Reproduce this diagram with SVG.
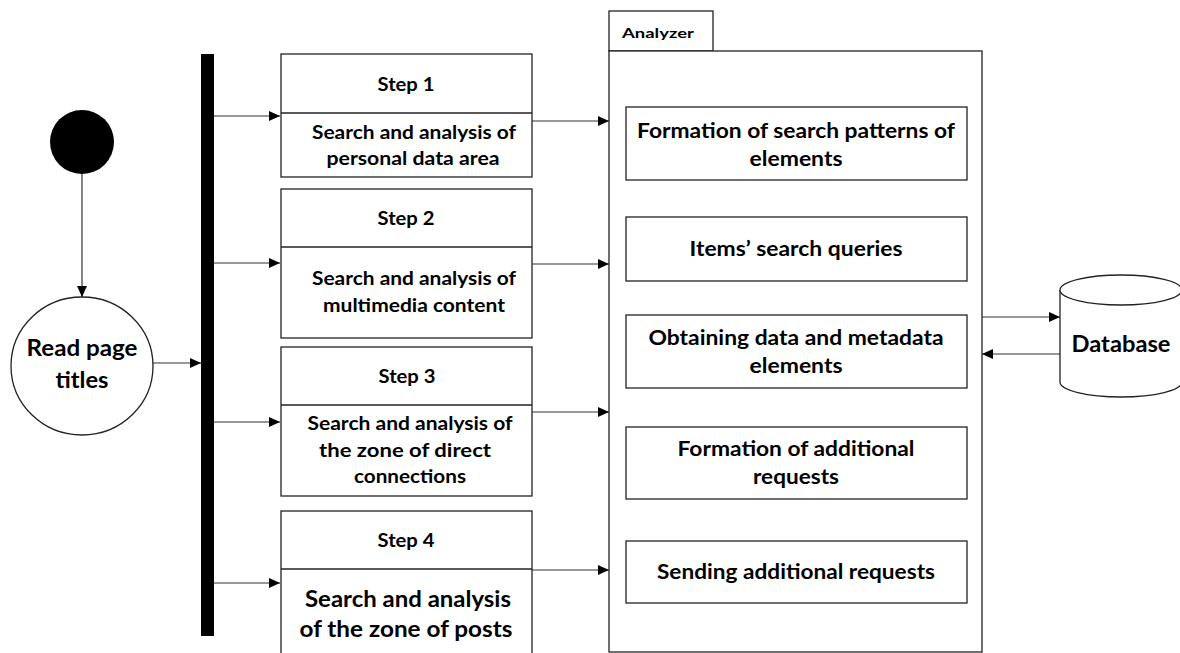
<svg xmlns="http://www.w3.org/2000/svg" width="1180" height="653" viewBox="0 0 1180 653">
<style>
.box{fill:#fff;stroke:#222;stroke-width:1.3}
.ln{fill:none;stroke:#333;stroke-width:1.2}
.t{font-family:Lato,"Open Sans",sans-serif;font-weight:bold;fill:#000;text-anchor:middle}
.s16{font-size:18px}.s18{font-size:18.5px}.s20{font-size:20px}.s22{font-size:22px}.s14{font-size:14px}
</style>
<defs>
<marker id="ah" markerUnits="userSpaceOnUse" markerWidth="12" markerHeight="10" refX="11" refY="5" orient="auto">
<path d="M0,0 L11,5 L0,10 Z" fill="#000"/>
</marker>
</defs>
<rect width="1180" height="653" fill="#fff"/>
<g id="connectors">
<line class="ln" x1="82" y1="174" x2="82" y2="297" marker-end="url(#ah)"/>
<line class="ln" x1="153" y1="363" x2="201" y2="363" marker-end="url(#ah)"/>
<line class="ln" x1="214" y1="116" x2="280" y2="116" marker-end="url(#ah)"/>
<line class="ln" x1="214" y1="263" x2="280" y2="263" marker-end="url(#ah)"/>
<line class="ln" x1="214" y1="422" x2="280" y2="422" marker-end="url(#ah)"/>
<line class="ln" x1="214" y1="583" x2="280" y2="583" marker-end="url(#ah)"/>
<line class="ln" x1="532" y1="121" x2="609" y2="121" marker-end="url(#ah)"/>
<line class="ln" x1="532" y1="264" x2="609" y2="264" marker-end="url(#ah)"/>
<line class="ln" x1="532" y1="412" x2="609" y2="412" marker-end="url(#ah)"/>
<line class="ln" x1="532" y1="570" x2="609" y2="570" marker-end="url(#ah)"/>
<line class="ln" x1="982" y1="317" x2="1060" y2="317" marker-end="url(#ah)"/>
<line class="ln" x1="1060" y1="354" x2="982" y2="354" marker-end="url(#ah)"/>
</g>
<g id="start"><circle cx="82" cy="142" r="32" fill="#000"/></g>
<g id="read">
<ellipse class="box" cx="82" cy="366" rx="71" ry="69"/>
<text class="t s22" x="82" y="356" textLength="111" lengthAdjust="spacingAndGlyphs">Read page</text>
<text class="t s22" x="82" y="388" textLength="53" lengthAdjust="spacingAndGlyphs">titles</text>
</g>
<g id="bar"><rect x="201" y="54" width="13" height="582" fill="#000"/></g>
<g id="step1">
<rect class="box" x="281" y="54" width="251" height="123"/>
<line class="box" x1="281" y1="113" x2="532" y2="113"/>
<text class="t s16" x="406" y="91" textLength="57" lengthAdjust="spacingAndGlyphs">Step 1</text>
<text class="t s18" x="414" y="139" textLength="204" lengthAdjust="spacingAndGlyphs">Search and analysis of</text>
<text class="t s18" x="413" y="165" textLength="173" lengthAdjust="spacingAndGlyphs">personal data area</text>
</g>
<g id="step2">
<rect class="box" x="281" y="189" width="251" height="149"/>
<line class="box" x1="281" y1="247" x2="532" y2="247"/>
<text class="t s16" x="406" y="225" textLength="57" lengthAdjust="spacingAndGlyphs">Step 2</text>
<text class="t s18" x="414" y="285" textLength="204" lengthAdjust="spacingAndGlyphs">Search and analysis of</text>
<text class="t s18" x="414" y="312" textLength="182" lengthAdjust="spacingAndGlyphs">multimedia content</text>
</g>
<g id="step3">
<rect class="box" x="281" y="347" width="251" height="149"/>
<line class="box" x1="281" y1="405" x2="532" y2="405"/>
<text class="t s16" x="407" y="383" textLength="57" lengthAdjust="spacingAndGlyphs">Step 3</text>
<text class="t s18" x="410" y="430" textLength="205" lengthAdjust="spacingAndGlyphs">Search and analysis of</text>
<text class="t s18" x="405" y="457" textLength="172" lengthAdjust="spacingAndGlyphs">the zone of direct</text>
<text class="t s18" x="410" y="483" textLength="112" lengthAdjust="spacingAndGlyphs">connections</text>
</g>
<g id="step4">
<rect class="box" x="281" y="511" width="251" height="160"/>
<line class="box" x1="281" y1="569" x2="532" y2="569"/>
<text class="t s16" x="406" y="547" textLength="57" lengthAdjust="spacingAndGlyphs">Step 4</text>
<text class="t s22" x="408" y="607" textLength="206" lengthAdjust="spacingAndGlyphs">Search and analysis</text>
<text class="t s22" x="406" y="637" textLength="213" lengthAdjust="spacingAndGlyphs">of the zone of posts</text>
</g>
<g id="analyzer">
<rect class="box" x="609" y="11" width="104" height="40"/>
<rect class="box" x="609" y="51" width="373" height="601"/>
<text class="t s14" x="658" y="38" textLength="72" lengthAdjust="spacingAndGlyphs">Analyzer</text>
</g>
<g id="a1">
<rect class="box" x="626" y="107" width="341" height="73"/>
<text class="t s20" x="796" y="138" textLength="318" lengthAdjust="spacingAndGlyphs">Formation of search patterns of</text>
<text class="t s20" x="796" y="166" textLength="93" lengthAdjust="spacingAndGlyphs">elements</text>
</g>
<g id="a2">
<rect class="box" x="626" y="217" width="341" height="64"/>
<text class="t s20" x="796" y="256" textLength="213" lengthAdjust="spacingAndGlyphs">Items’ search queries</text>
</g>
<g id="a3">
<rect class="box" x="626" y="315" width="341" height="73"/>
<text class="t s20" x="796" y="345" textLength="295" lengthAdjust="spacingAndGlyphs">Obtaining data and metadata</text>
<text class="t s20" x="796" y="373" textLength="93" lengthAdjust="spacingAndGlyphs">elements</text>
</g>
<g id="a4">
<rect class="box" x="626" y="427" width="341" height="72"/>
<text class="t s20" x="796" y="456" textLength="237" lengthAdjust="spacingAndGlyphs">Formation of additional</text>
<text class="t s20" x="796" y="484" textLength="86" lengthAdjust="spacingAndGlyphs">requests</text>
</g>
<g id="a5">
<rect class="box" x="626" y="541" width="341" height="62"/>
<text class="t s20" x="796" y="579" textLength="278" lengthAdjust="spacingAndGlyphs">Sending additional requests</text>
</g>
<g id="database">
<path class="box" d="M1060,290 L1060,382 A61,15 0 0 0 1182,382 L1182,290 A61,15 0 0 0 1060,290 Z"/>
<path class="box" d="M1060,290 A61,15 0 0 0 1182,290" fill="none"/>
<text class="t s22" x="1121" y="352" textLength="99" lengthAdjust="spacingAndGlyphs">Database</text>
</g>
</svg>
